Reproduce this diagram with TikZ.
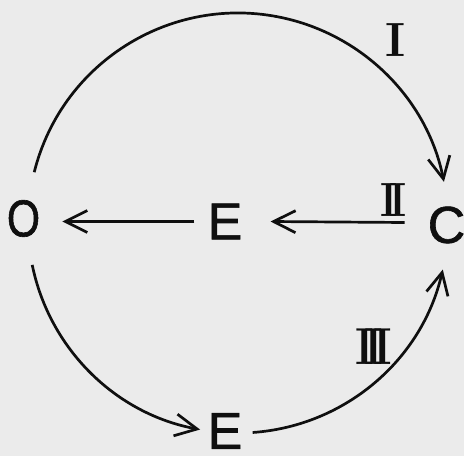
\documentclass[tikz,border=0pt]{standalone}
\usepackage{fontspec}
\usepackage{graphicx}
\newfontfamily\letterfont[FakeBold=1.2]{Liberation Sans}
\usetikzlibrary{arrows.meta}
\definecolor{paper}{gray}{0.92}
\definecolor{ink}{gray}{0.06}
\begin{document}
\begin{tikzpicture}[x=1pt,y=1pt,
  letter/.style={inner sep=0pt,font=\letterfont\fontsize{52}{52}\selectfont,text=ink},
  numeral/.style={inner sep=0pt,font=\bfseries\fontsize{48}{48}\selectfont,text=ink},
  conn/.style={draw=ink,line width=2.7pt,-{Straight Barb[length=22pt,width=22pt,line width=2.7pt]}}]
\path[fill=paper] (0,0) rectangle (464,456);
\useasboundingbox (0,0) rectangle (464,456);
% nodes
\node[letter] (O) at (23.5,237.5) {\scalebox{0.82}[1]{O}};
\node[letter] (E1) at (225,234.5) {E};
\node[letter] (C) at (446.5,231) {C};
\node[letter] (E2) at (225,25) {E};
% circle points
\coordinate (ctr) at (238,233);
\coordinate (Otop) at ([shift={(166:210)}]ctr);
\coordinate (Obot) at ([shift={(191.5:210)}]ctr);
\coordinate (E2right) at ([shift={(274:210)}]ctr);
% connectors
\draw[conn] (Otop) arc[start angle=166,end angle=11.3,radius=210];
\draw[conn] (Obot) arc[start angle=191.5,end angle=259.6,radius=210];
\draw[conn] (E2right) arc[start angle=274,end angle=347.2,radius=210];
\draw[conn,shorten <=13pt,shorten >=22pt] (E1.west) -- (O.east |- E1.west);
\draw[conn] ([xshift=-23pt,yshift=2.5pt]C.west) -- ([xshift=28pt]E1.east);
% labels
\node[numeral] (n1) at (395.5,415.5) {I};
\node[numeral] (n2) at (393.5,256) {\scalebox{0.85}[1]{I\kern-.2em I}};
\node[numeral,font=\bfseries\fontsize{52}{52}\selectfont] (n3) at (373.5,109.5) {\scalebox{0.85}[1]{I\kern-.22em I\kern-.22em I}};
\end{tikzpicture}
\end{document}
